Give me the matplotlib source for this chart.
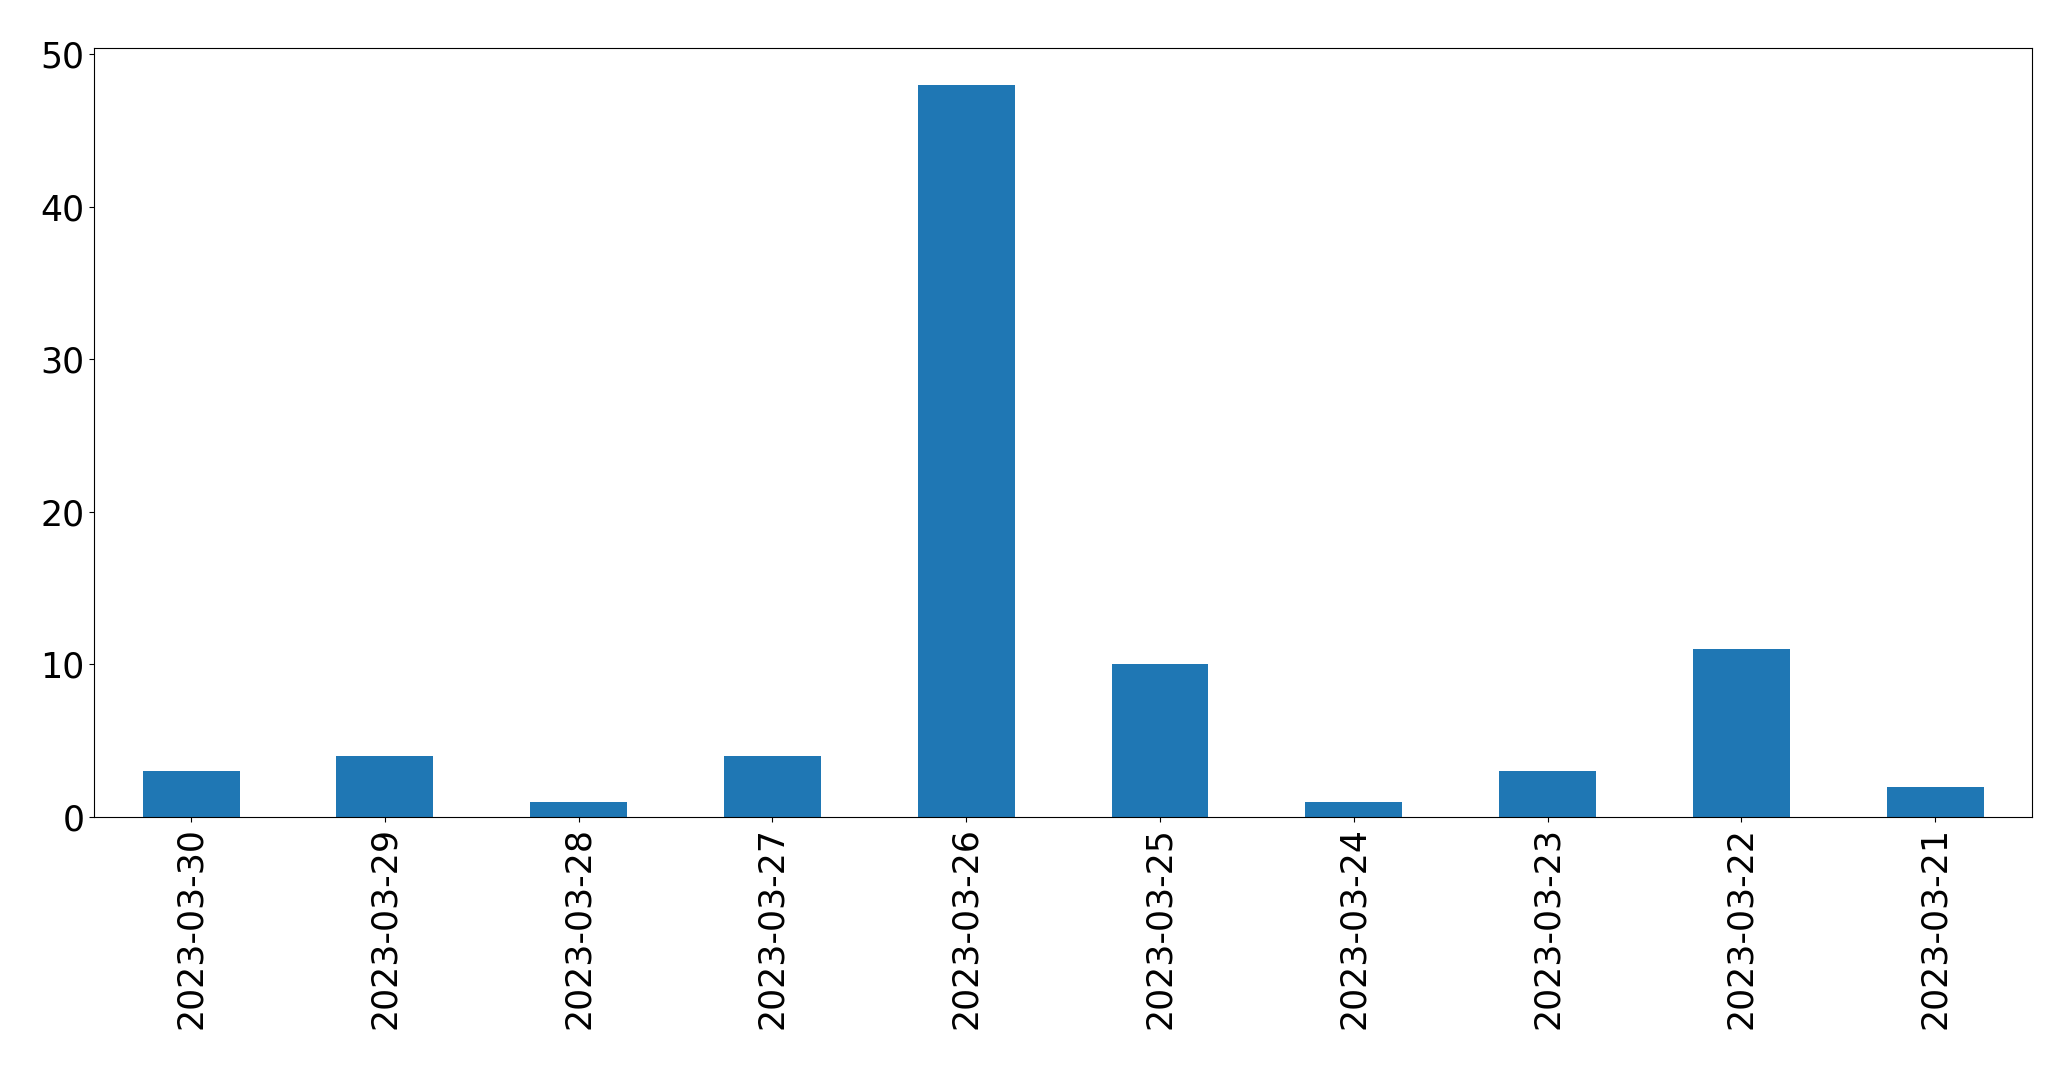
import pandas as pd
import matplotlib
matplotlib.use('Agg')
import matplotlib.pyplot as plt

# daily counts, newest first (as in the original chart)
dates = ['2023-03-30', '2023-03-29', '2023-03-28', '2023-03-27', '2023-03-26',
         '2023-03-25', '2023-03-24', '2023-03-23', '2023-03-22', '2023-03-21']
counts = [3, 4, 1, 4, 48, 10, 1, 3, 11, 2]

series = pd.Series(counts, index=dates)

fig = plt.figure(figsize=(20.71, 10.69), dpi=100)
ax = fig.add_axes([0.0455, 0.2357, 0.9357, 0.7194])
series.plot(kind='bar', ax=ax, color='#1f77b4', fontsize=25)

plt.savefig('out.png', dpi=100)
